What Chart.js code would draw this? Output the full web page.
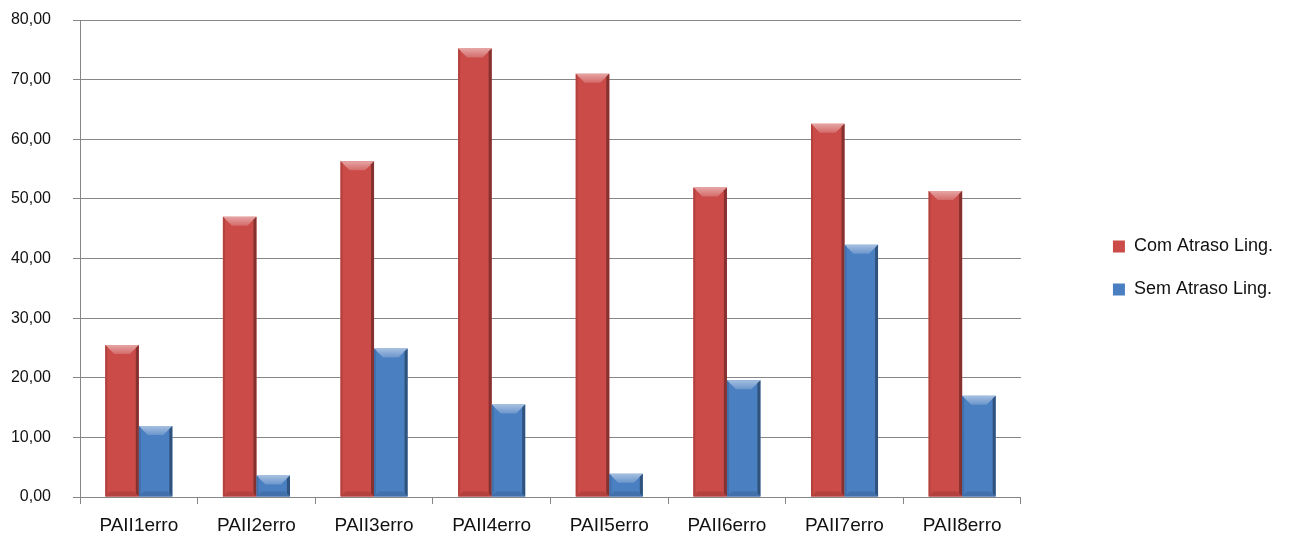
<!DOCTYPE html>
<html>
<head>
<meta charset="utf-8">
<script src="https://cdn.jsdelivr.net/npm/chart.js@4.4.1/dist/chart.umd.min.js"></script>
<style>
  html, body { margin: 0; padding: 0; background: #fff; }
  #wrap { width: 1291px; height: 536px; }
</style>
</head>
<body>
<div id="wrap"><canvas id="grafico"></canvas></div>
<script>
const categorias = ['PAII1erro', 'PAII2erro', 'PAII3erro', 'PAII4erro', 'PAII5erro', 'PAII6erro', 'PAII7erro', 'PAII8erro'];
const comAtraso = [25.5, 47.0, 56.3, 75.2, 71.0, 51.9, 62.6, 51.3];
const semAtraso = [11.9, 3.6, 24.9, 15.5, 3.9, 19.6, 42.3, 17.0];
const nomesSeries = ['Com Atraso Ling.', 'Sem Atraso Ling.'];
const coresSeries = ['#cb4b48', '#4a7fc1'];

// ajusta o tom de uma cor hex (f > 0 clareia, f < 0 escurece)
function tom(hex, f) {
  const n = parseInt(hex.slice(1), 16);
  let r = n >> 16, g = (n >> 8) & 255, b = n & 255;
  const ajuste = c => f >= 0 ? Math.round(c + (255 - c) * f) : Math.round(c * (1 + f));
  return 'rgb(' + ajuste(r) + ',' + ajuste(g) + ',' + ajuste(b) + ')';
}

// efeito de chanfro nas barras (estilo Excel)
const chanfro = {
  id: 'chanfro',
  afterDatasetsDraw(chart) {
    const ctx = chart.ctx;
    chart.data.datasets.forEach((ds, i) => {
      const meta = chart.getDatasetMeta(i);
      const cor = coresSeries[i];
      meta.data.forEach(bar => {
        const { x, y, width, base } = bar.getProps(['x', 'y', 'width', 'base'], true);
        const l = x - width / 2, r = x + width / 2;
        const d = Math.min(9, (base - y) / 2);
        ctx.save();
        // topo claro
        const gTopo = ctx.createLinearGradient(0, y, 0, y + d);
        gTopo.addColorStop(0, tom(cor, 0.5));
        gTopo.addColorStop(1, tom(cor, 0.18));
        ctx.fillStyle = gTopo;
        ctx.beginPath();
        ctx.moveTo(l, y); ctx.lineTo(r, y);
        ctx.lineTo(r - d, y + d); ctx.lineTo(l + d, y + d);
        ctx.closePath(); ctx.fill();
        // lateral direita escura
        ctx.fillStyle = tom(cor, -0.35);
        ctx.beginPath();
        ctx.moveTo(r, y); ctx.lineTo(r, base); ctx.lineTo(r - 3, base - 3); ctx.lineTo(r - 3, y + 3);
        ctx.closePath(); ctx.fill();
        // lateral esquerda
        ctx.fillStyle = tom(cor, -0.12);
        ctx.beginPath();
        ctx.moveTo(l, y); ctx.lineTo(l + 2, y + 2); ctx.lineTo(l + 2, base - 2); ctx.lineTo(l, base);
        ctx.closePath(); ctx.fill();
        // base
        ctx.fillStyle = tom(cor, -0.12);
        ctx.beginPath();
        ctx.moveTo(l, base); ctx.lineTo(r, base); ctx.lineTo(r - 5, base - 5); ctx.lineTo(l + 5, base - 5);
        ctx.closePath(); ctx.fill();
        ctx.restore();
      });
    });
  }
};

const ctxGrafico = document.getElementById('grafico').getContext('2d');
const grafico = new Chart(ctxGrafico, {
  type: 'bar',
  data: {
    labels: categorias,
    datasets: [
      { label: nomesSeries[0], data: comAtraso, backgroundColor: coresSeries[0], borderWidth: 0 },
      { label: nomesSeries[1], data: semAtraso, backgroundColor: coresSeries[1], borderWidth: 0 }
    ]
  },
  options: {
    responsive: true,
    maintainAspectRatio: false,
    animation: false,
    categoryPercentage: 0.57,
    barPercentage: 1.0,
    layout: { padding: { left: 10, right: 8, top: 0, bottom: 0 } },
    scales: {
      x: {
        grid: { display: true, drawOnChartArea: false, drawTicks: true, tickLength: 7, color: '#868686' },
        border: { color: '#868686' },
        ticks: { color: '#111', font: { family: 'Liberation Sans', size: 19 }, padding: 10 },
        afterFit(s) { s.height = 39; }
      },
      y: {
        min: 0,
        max: 80,
        grid: { color: '#868686', tickLength: 7 },
        border: { color: '#868686' },
        ticks: {
          stepSize: 10,
          padding: 22,
          color: '#111',
          font: { family: 'Liberation Sans', size: 16 },
          callback: v => v.toFixed(2).replace('.', ',')
        },
        afterFit(s) { s.width = 70; s.paddingTop = 20; s.paddingBottom = 0; }
      },
      // eixo vazio só para abrir espaço entre o gráfico e a legenda
      espaco: {
        position: 'right',
        display: true,
        grid: { display: false },
        border: { display: false },
        ticks: { display: false },
        afterFit(s) { s.width = 67; s.paddingTop = 0; s.paddingBottom = 0; }
      }
    },
    plugins: {
      legend: {
        position: 'right',
        labels: {
          boxWidth: 12,
          boxHeight: 12,
          padding: 25,
          color: '#111',
          font: { family: 'Liberation Sans', size: 18 }
        }
      },
      tooltip: { enabled: false }
    }
  },
  plugins: [chanfro]
});
</script>
</body>
</html>
